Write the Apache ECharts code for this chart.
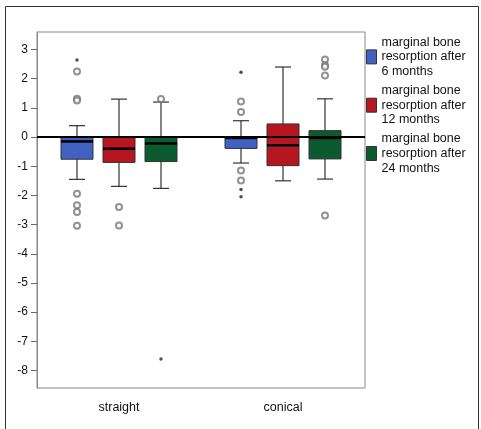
<!DOCTYPE html>
<html>
<head>
<meta charset="utf-8">
<script src="https://cdn.jsdelivr.net/npm/echarts@6/dist/echarts.min.js"></script>
<style>
  html, body { margin: 0; padding: 0; background: #fff; }
  #chart { width: 481px; height: 429px; }
</style>
</head>
<body>
<div id="chart"></div>
<script>
// categories and tick labels
var categories = ['straight', 'conical'];
var yTicks = [-8, -7, -6, -5, -4, -3, -2, -1, 0, 1, 2, 3];
var seriesNames = [
  'marginal bone\nresorption after\n6 months',
  'marginal bone\nresorption after\n12 months',
  'marginal bone\nresorption after\n24 months'
];

// box values per category: [min, Q1, median, Q3, max]
var box6 = [[-1.45, -0.76, -0.15, 0, 0.39], [-0.89, -0.39, -0.03, 0, 0.56]];
var box12 = [[-1.69, -0.87, -0.4, 0, 1.3], [-1.5, -0.98, -0.28, 0.45, 2.4]];
var box24 = [[-1.76, -0.84, -0.22, 0, 1.2], [-1.44, -0.75, -0.03, 0.22, 1.31]];

// outliers (circles) and extremes (asterisks): [category index, value]
var out6 = [[0, 2.25], [0, 1.31], [0, 1.25], [0, -1.94], [0, -2.34], [0, -2.57], [0, -3.04],
            [1, 1.22], [1, 0.86], [1, -1.15], [1, -1.49]];
var ext6 = [[0, 2.64], [1, 2.22], [1, -1.8], [1, -2.05]];
var out12 = [[0, -2.4], [0, -3.03]];
var ext12 = [];
var out24 = [[0, 1.3], [1, 2.66], [1, 2.46], [1, 2.41], [1, 2.11], [1, -2.69]];
var ext24 = [[0, -7.61]];

var colors = ['#4161c0', '#b5161f', '#0c5a30'];
var boxOffset = [-42, 0, 42];
var boxWidth = 32;
var capWidth = 16;

function renderBox(params, api) {
  var cx = api.coord([api.value(0), 0])[0] + boxOffset[params.seriesIndex];
  var lo = api.coord([0, api.value(1)])[1];
  var q1 = api.coord([0, api.value(2)])[1];
  var md = api.coord([0, api.value(3)])[1];
  var q3 = api.coord([0, api.value(4)])[1];
  var hi = api.coord([0, api.value(5)])[1];
  var hw = boxWidth / 2, cw = capWidth / 2;
  var wl = { stroke: '#333', lineWidth: 1.2 };
  return {
    type: 'group',
    children: [
      { type: 'line', shape: { x1: cx, y1: hi, x2: cx, y2: q3 }, style: wl },
      { type: 'line', shape: { x1: cx, y1: q1, x2: cx, y2: lo }, style: wl },
      { type: 'line', shape: { x1: cx - cw, y1: hi, x2: cx + cw, y2: hi }, style: wl },
      { type: 'line', shape: { x1: cx - cw, y1: lo, x2: cx + cw, y2: lo }, style: wl },
      { type: 'rect', shape: { x: cx - hw, y: q3, width: boxWidth, height: q1 - q3 },
        style: { fill: api.visual('color'), stroke: '#333', lineWidth: 1 } },
      { type: 'line', shape: { x1: cx - hw, y1: md, x2: cx + hw, y2: md },
        style: { stroke: '#000', lineWidth: 2.5 } }
    ]
  };
}

var boxes = [box6, box12, box24];
var outs = [out6, out12, out24];
var exts = [ext6, ext12, ext24];

var series = [];
boxes.forEach(function (b, i) {
  series.push({
    name: seriesNames[i],
    type: 'custom',
    renderItem: renderBox,
    itemStyle: { color: colors[i], borderColor: '#333', borderWidth: 1 },
    encode: { x: 0, y: [1, 2, 3, 4, 5] },
    data: b.map(function (v, k) { return [k].concat(v); }),
    z: 2
  });
});
outs.forEach(function (o, i) {
  series.push({
    type: 'scatter',
    data: o,
    symbol: 'emptyCircle',
    symbolSize: 6,
    symbolOffset: [boxOffset[i], 0],
    itemStyle: { color: '#777', borderWidth: 1 },
    z: 3
  });
});
exts.forEach(function (e, i) {
  series.push({
    type: 'scatter',
    data: e,
    symbol: 'circle',
    symbolSize: 3.5,
    symbolOffset: [boxOffset[i], 0],
    itemStyle: { color: '#222' },
    z: 3
  });
});
// reference line at 0
series[3].markLine = {
  silent: true,
  symbol: ['none', 'none'],
  label: { show: false },
  lineStyle: { color: '#000', width: 2, type: 'solid' },
  data: [{ yAxis: 0 }],
  z: 5
};

var chart = echarts.init(document.getElementById('chart'));
chart.setOption({
  animation: false,
  textStyle: { fontFamily: 'Liberation Sans' },
  graphic: [{
    type: 'rect',
    shape: { x: 5.5, y: 6.5, width: 473, height: 440 },
    style: { fill: 'none', stroke: '#333', lineWidth: 1 },
    silent: true
  }],
  grid: {
    left: 37, top: 32, right: 116, bottom: 41,
    show: true, borderColor: '#888', borderWidth: 1, backgroundColor: '#fff'
  },
  legend: {
    orient: 'vertical',
    left: 366,
    top: 35,
    padding: 0,
    itemWidth: 10,
    itemHeight: 14,
    itemGap: 4.5,
    icon: 'rect',
    data: seriesNames,
    selectedMode: false,
    itemStyle: { borderColor: '#333', borderWidth: 1 },
    textStyle: { fontSize: 12.5, lineHeight: 14.6, color: '#111', fontFamily: 'Liberation Sans' }
  },
  xAxis: {
    type: 'category',
    data: categories,
    axisLine: { lineStyle: { color: '#888' } },
    axisTick: { alignWithLabel: true, length: 8, lineStyle: { color: '#666' } },
    axisLabel: { fontSize: 12.5, color: '#111', margin: 13 },
    splitLine: { show: false }
  },
  yAxis: {
    type: 'value',
    min: -8.6,
    max: 3.6,
    axisLine: { show: true, lineStyle: { color: '#888' } },
    axisTick: { show: true, length: 6, customValues: yTicks, lineStyle: { color: '#666' } },
    axisLabel: { fontSize: 12, color: '#111', margin: 9, customValues: yTicks },
    splitLine: { show: false }
  },
  series: series
});
</script>
</body>
</html>
